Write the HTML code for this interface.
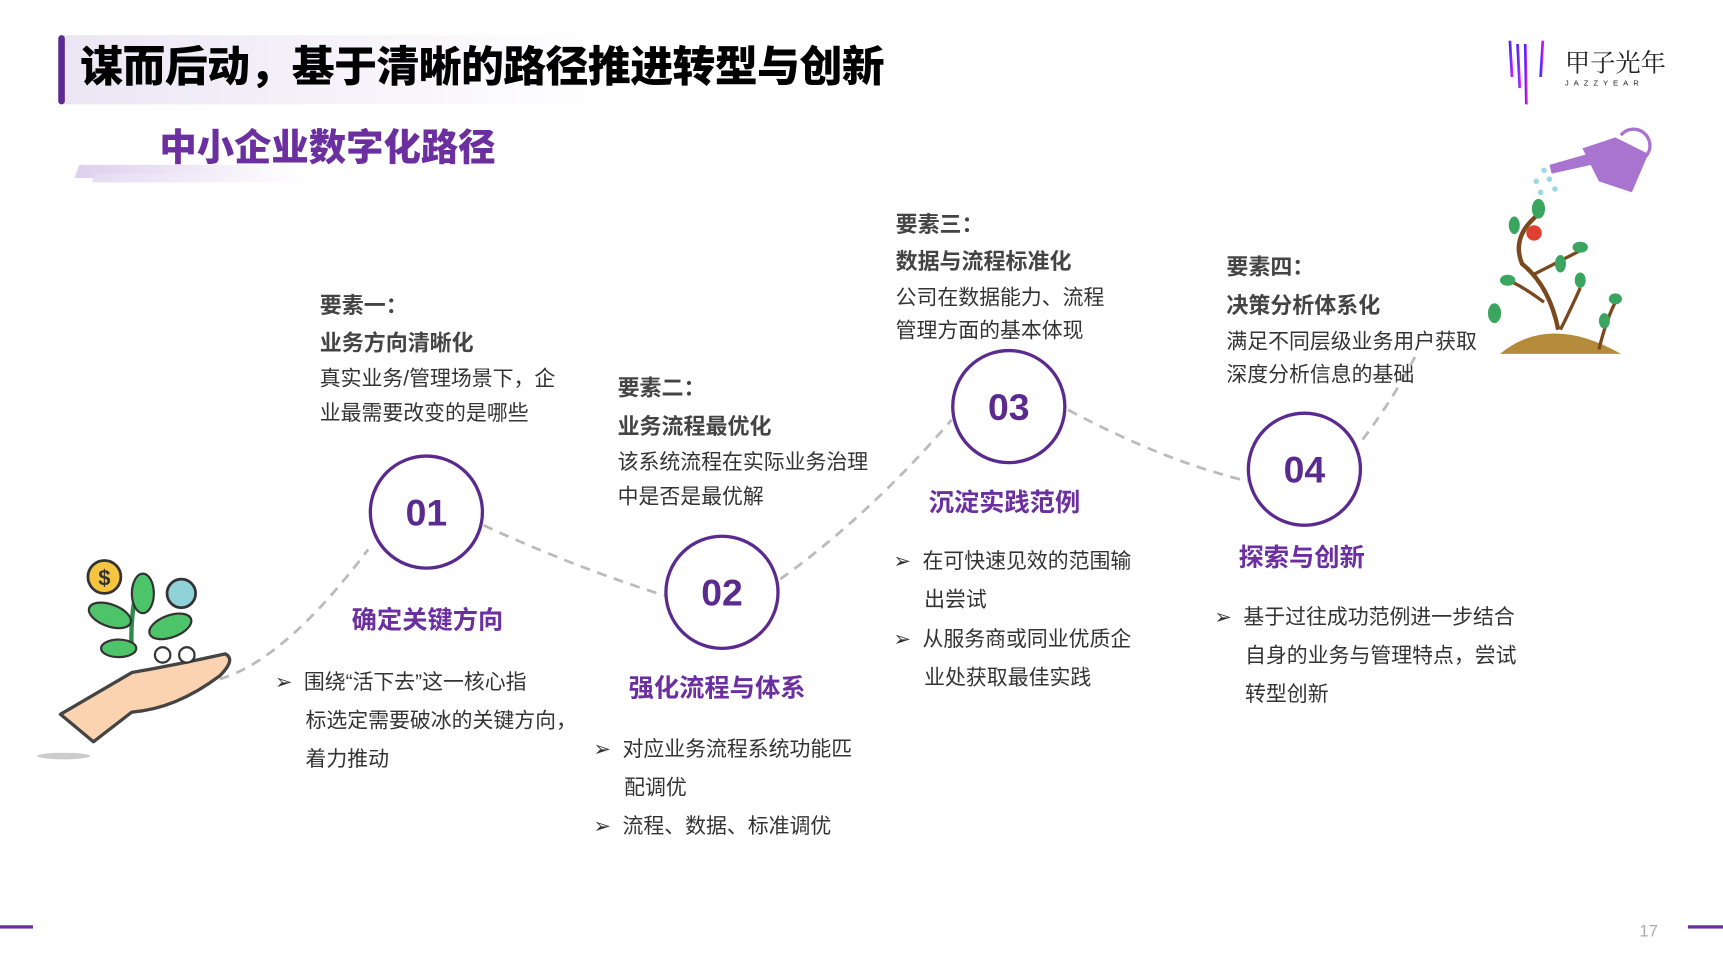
<!DOCTYPE html>
<html><head><meta charset="utf-8"><style>
html,body{margin:0;padding:0;background:#fff;overflow:hidden}
#wrap{width:1568px;height:878px;position:relative;transform:scale(1.0989);transform-origin:0 0;font-family:"Liberation Sans","Noto Sans CJK SC",sans-serif;color:#333}
.t{position:absolute;white-space:nowrap;line-height:1}
.h{font-weight:bold;color:#444;font-size:20px}
.d{font-size:19px;color:#333}
.p{font-weight:bold;color:#6b2fa0;font-size:23px}
.b{font-size:19px;color:#333}
</style></head><body><div id="wrap">
<div style="position:absolute;left:58px;top:32px;width:500px;height:63px;background:linear-gradient(90deg,#ece6f4,#fff)"></div>
<div style="position:absolute;left:53px;top:32px;width:6px;height:63px;background:#5d2a91;border-radius:3px"></div>
<div class="t" style="left:73px;top:42px;font-size:39px;letter-spacing:-0.5px;font-weight:900;color:#000">谋而后动，基于清晰的路径推进转型与创新</div>
<div style="position:absolute;left:70px;top:150px;width:200px;height:12px;background:linear-gradient(90deg,#ddd0ee,#fff);transform:skewX(-20deg)"></div>
<div style="position:absolute;left:85px;top:158px;width:200px;height:8px;background:linear-gradient(90deg,#e6dcf2,#fff);transform:skewX(-20deg)"></div>
<div class="t" style="left:145px;top:118px;font-size:34px;font-weight:900;color:#6b2fa0">中小企业数字化路径</div>

<svg style="position:absolute;left:0;top:0" width="1568" height="878">
<defs><linearGradient id="lg" x1="0" x2="1"><stop offset="0" stop-color="#3b2bff"/><stop offset="1" stop-color="#d21cf0"/></linearGradient></defs>
<g fill="none" stroke="#bbb" stroke-width="2.5" stroke-dasharray="9 7">
<path d="M200 618 Q260 600 335 500"/>
<path d="M440 478 Q520 515 605 542"/>
<path d="M710 527 Q790 470 866 382"/>
<path d="M972 373 Q1060 420 1136 438"/>
<path d="M1240 400 Q1270 360 1290 320"/>
</g>
<g fill="#fff" stroke="#5b2a8e" stroke-width="3">
<circle cx="388" cy="466" r="51"/><circle cx="657" cy="539" r="51"/><circle cx="918" cy="370" r="51"/><circle cx="1187" cy="427" r="51"/>
</g>
<g font-family="Liberation Sans,sans-serif" font-weight="bold" font-size="34" fill="#5b2a8e" text-anchor="middle">
<text x="388" y="478">01</text><text x="657" y="551">02</text><text x="918" y="382">03</text><text x="1187" y="439">04</text>
</g>
<g stroke="url(#lg)" stroke-width="2.5"><line x1="1374" y1="37" x2="1376" y2="70"/><line x1="1381" y1="40" x2="1383" y2="80"/><line x1="1388" y1="40" x2="1389" y2="95"/><line x1="1396" y1="40" x2="1396" y2="80"/><line x1="1404" y1="37" x2="1402" y2="70"/></g>
<text x="1424" y="65" font-family="Noto Serif CJK SC,serif" font-size="23" fill="#222">甲子光年</text>
<text x="1424" y="78" font-size="7" fill="#222" letter-spacing="4.5">JAZZYEAR</text>
<path d="M1440 135 L1470 125 L1500 140 L1485 175 L1455 165 Z" fill="#a874d0"/>
<path d="M1445 140 L1410 150 L1412 158 L1448 150 Z" fill="#a874d0"/>
<path d="M1475 123 A14 14 0 1 1 1498 142" fill="none" stroke="#a874d0" stroke-width="3"/>
<g fill="#9ad8e6"><circle cx="1405" cy="155" r="2.5"/><circle cx="1398" cy="165" r="2.5"/><circle cx="1410" cy="163" r="2.5"/><circle cx="1402" cy="175" r="2.5"/><circle cx="1415" cy="172" r="2.5"/></g>
<path d="M1365 322 Q1410 285 1475 322 Z" fill="#b58a3a"/>
<path d="M1418 300 Q1410 260 1385 240 Q1375 215 1400 195" fill="none" stroke="#7a4a1e" stroke-width="4"/>
<path d="M1395 250 Q1415 240 1438 228 M1405 275 Q1385 260 1372 255 M1420 300 Q1430 280 1438 262 M1455 318 Q1462 290 1470 275" fill="none" stroke="#7a4a1e" stroke-width="3"/>
<g fill="#3aa55e"><ellipse cx="1400" cy="190" rx="6" ry="9"/><ellipse cx="1378" cy="205" rx="5" ry="8"/><ellipse cx="1438" cy="225" rx="7" ry="5"/><ellipse cx="1420" cy="240" rx="5" ry="8"/><ellipse cx="1372" cy="255" rx="7" ry="5"/><ellipse cx="1438" cy="255" rx="5" ry="7"/><ellipse cx="1360" cy="285" rx="6" ry="9"/><ellipse cx="1470" cy="272" rx="6" ry="5"/><ellipse cx="1460" cy="292" rx="5" ry="7"/></g>
<circle cx="1396" cy="212" r="7" fill="#e0402f"/>
<ellipse cx="58" cy="688" rx="24" ry="3" fill="#ccc"/>
<path d="M55 650 L120 612 Q160 605 205 595 Q215 600 200 615 Q160 645 120 648 L85 675 Z" fill="#fbd3b0" stroke="#444" stroke-width="3" stroke-linejoin="round"/>
<path d="M120 595 Q118 560 125 535" fill="none" stroke="#2d8a4e" stroke-width="4"/>
<g fill="#4ec46a" stroke="#333" stroke-width="2"><ellipse cx="100" cy="560" rx="20" ry="10" transform="rotate(20 100 560)"/><ellipse cx="155" cy="570" rx="20" ry="10" transform="rotate(-20 155 570)"/><ellipse cx="130" cy="540" rx="10" ry="18"/><ellipse cx="108" cy="590" rx="16" ry="8"/></g>
<circle cx="95" cy="525" r="15" fill="#f5c542" stroke="#333" stroke-width="2.5"/>
<text x="95" y="533" font-size="20" text-anchor="middle" font-weight="bold" fill="#333">$</text>
<circle cx="165" cy="540" r="13" fill="#8fd3d8" stroke="#333" stroke-width="2.5"/>
<circle cx="148" cy="596" r="7" fill="#fff" stroke="#333" stroke-width="2"/>
<circle cx="170" cy="596" r="7" fill="#fff" stroke="#333" stroke-width="2"/>
<rect x="0" y="842" width="30" height="3" fill="#6b2fa0"/>
<rect x="1536" y="842" width="32" height="3" fill="#6b2fa0"/>
<text x="1492" y="852" font-size="15" fill="#aaa">17</text>
</svg>

<div class="t h" style="left:291px;top:269px">要素一：</div>
<div class="t h" style="left:291px;top:303px">业务方向清晰化</div>
<div class="t d" style="left:291px;top:336px">真实业务/管理场景下，企</div>
<div class="t d" style="left:291px;top:367px">业最需要改变的是哪些</div>
<div class="t p" style="left:320px;top:553px">确定关键方向</div>
<div class="t b" style="left:250px;top:612px">➢&nbsp;&nbsp;围绕“活下去”这一核心指</div>
<div class="t b" style="left:278px;top:647px">标选定需要破冰的关键方向，</div>
<div class="t b" style="left:278px;top:682px">着力推动</div>

<div class="t h" style="left:562px;top:344px">要素二：</div>
<div class="t h" style="left:562px;top:379px">业务流程最优化</div>
<div class="t d" style="left:562px;top:412px">该系统流程在实际业务治理</div>
<div class="t d" style="left:562px;top:443px">中是否是最优解</div>
<div class="t p" style="left:572px;top:615px">强化流程与体系</div>
<div class="t b" style="left:540px;top:673px">➢&nbsp;&nbsp;对应业务流程系统功能匹</div>
<div class="t b" style="left:568px;top:708px">配调优</div>
<div class="t b" style="left:540px;top:743px">➢&nbsp;&nbsp;流程、数据、标准调优</div>

<div class="t h" style="left:815px;top:195px">要素三：</div>
<div class="t h" style="left:815px;top:229px">数据与流程标准化</div>
<div class="t d" style="left:815px;top:262px">公司在数据能力、流程</div>
<div class="t d" style="left:815px;top:292px">管理方面的基本体现</div>
<div class="t p" style="left:845px;top:446px">沉淀实践范例</div>
<div class="t b" style="left:813px;top:502px">➢&nbsp;&nbsp;在可快速见效的范围输</div>
<div class="t b" style="left:841px;top:537px">出尝试</div>
<div class="t b" style="left:813px;top:573px">➢&nbsp;&nbsp;从服务商或同业优质企</div>
<div class="t b" style="left:841px;top:608px">业处获取最佳实践</div>

<div class="t h" style="left:1116px;top:234px">要素四：</div>
<div class="t h" style="left:1116px;top:269px">决策分析体系化</div>
<div class="t d" style="left:1116px;top:302px">满足不同层级业务用户获取</div>
<div class="t d" style="left:1116px;top:332px">深度分析信息的基础</div>
<div class="t p" style="left:1127px;top:496px">探索与创新</div>
<div class="t b" style="left:1105px;top:553px">➢&nbsp;&nbsp;基于过往成功范例进一步结合</div>
<div class="t b" style="left:1133px;top:588px">自身的业务与管理特点，尝试</div>
<div class="t b" style="left:1133px;top:623px">转型创新</div>
</div></body></html>
